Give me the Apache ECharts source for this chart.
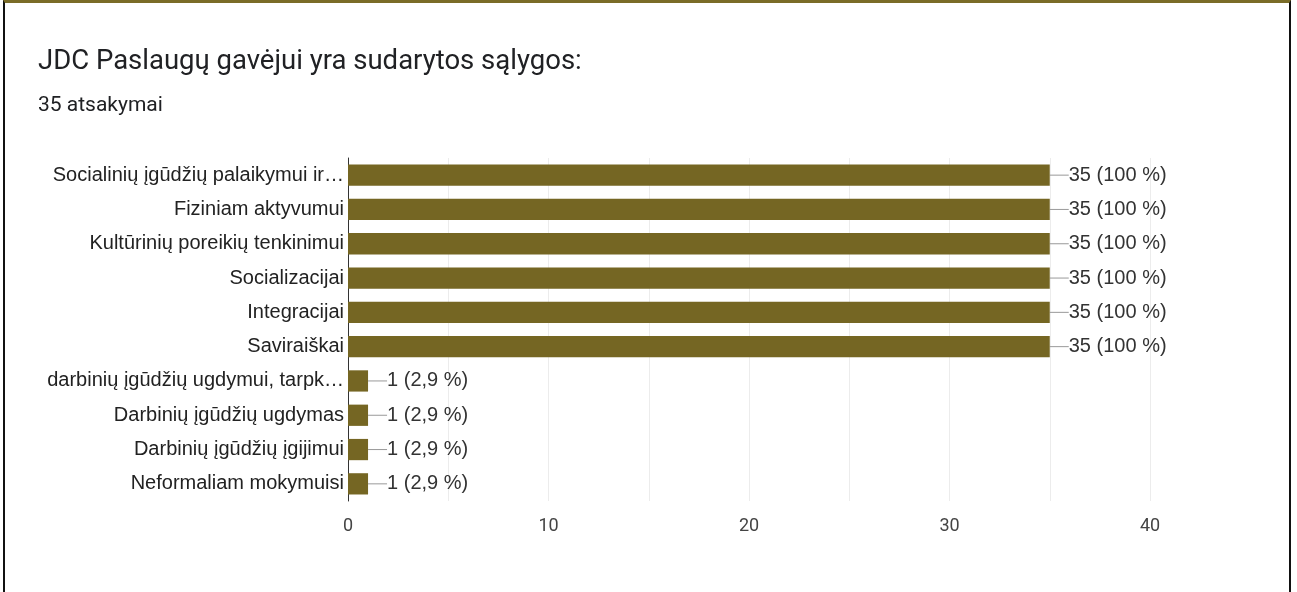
<!DOCTYPE html>
<html>
<head>
<meta charset="utf-8">
<script src="https://cdn.jsdelivr.net/npm/echarts@6/dist/echarts.min.js"></script>
<style>
  html, body { margin: 0; padding: 0; background: #fff; }
  #frame { position: absolute; left: 3px; top: 0; width: 1288px; height: 600px;
           border-left: 2px solid #111; border-right: 2px solid #111; border-top: 3px solid #7a6c28; box-sizing: border-box; }
  #main { position: absolute; left: 0; top: 0; width: 1297px; height: 592px; }
</style>
</head>
<body>
<div id="frame"></div>
<div id="main"></div>
<script>
const titleText = 'JDC Paslaugų gavėjui yra sudarytos sąlygos:';
const subtitleText = '35 atsakymai';
const categories = [
  'Socialinių įgūdžių palaikymui ir…',
  'Fiziniam aktyvumui',
  'Kultūrinių poreikių tenkinimui',
  'Socializacijai',
  'Integracijai',
  'Saviraiškai',
  'darbinių įgūdžių ugdymui, tarpk…',
  'Darbinių įgūdžių ugdymas',
  'Darbinių įgūdžių įgijimui',
  'Neformaliam mokymuisi'
];
const counts = [35, 35, 35, 35, 35, 35, 1, 1, 1, 1];
const percents = ['100', '100', '100', '100', '100', '100', '2,9', '2,9', '2,9', '2,9'];
const xTicks = [0, 10, 20, 30, 40];

const chart = echarts.init(document.getElementById('main'), null, { renderer: 'canvas' });
chart.setOption({
  animation: false,
  title: [
    { text: titleText, left: 33, top: 43, textStyle: { fontFamily: 'Roboto', fontSize: 27.5, fontWeight: 'normal', color: '#202124' } },
    { text: subtitleText, left: 33, top: 90, textStyle: { fontFamily: 'Roboto', fontSize: 21, fontWeight: 'normal', color: '#202124' } }
  ],
  grid: { left: 348, right: 147, top: 158, bottom: 91, containLabel: false },
  xAxis: {
    type: 'value', min: 0, max: 40, interval: 5,
    axisLine: { show: false }, axisTick: { show: false },
    splitLine: { show: true, lineStyle: { color: '#ececec', width: 1 } },
    axisLabel: {
      margin: 16, fontFamily: 'Roboto', fontSize: 18, color: '#444',
      formatter: v => xTicks.indexOf(v) >= 0 ? String(v) : ''
    }
  },
  yAxis: {
    type: 'category', data: categories, inverse: true,
    axisLine: { show: true, lineStyle: { color: '#333', width: 1 } },
    axisTick: { show: false },
    axisLabel: { margin: 4, fontFamily: 'Liberation Sans', fontSize: 20, color: '#222' }
  },
  series: [{
    type: 'bar', data: counts, barCategoryGap: '38%',
    itemStyle: { color: '#756623' },
    label: {
      show: true, position: 'right', distance: 0,
      fontFamily: 'Liberation Sans', fontSize: 20, color: '#333',
      formatter: p => counts[p.dataIndex] + ' (' + percents[p.dataIndex] + ' %)'
    },
    labelLayout: { dx: 19 },
    labelLine: { show: true, lineStyle: { color: '#999', width: 1 } }
  }]
});
</script>
</body>
</html>
